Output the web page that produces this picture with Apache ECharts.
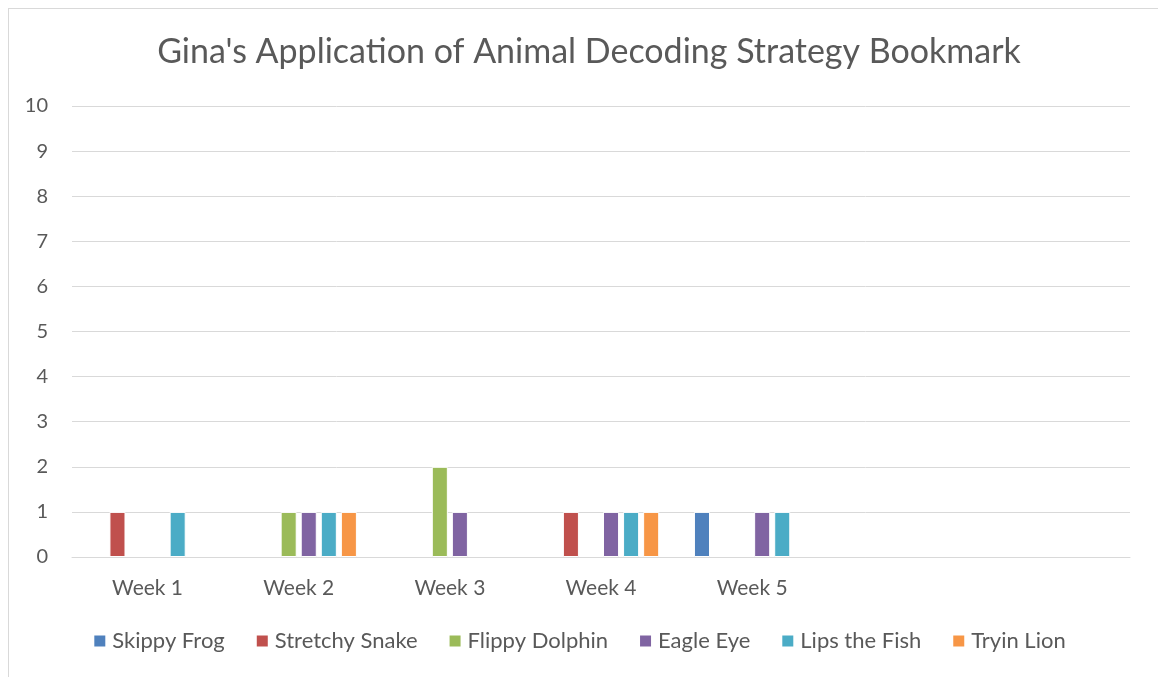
<!DOCTYPE html>
<html>
<head>
<meta charset="utf-8">
<script src="https://cdn.jsdelivr.net/npm/echarts@6/dist/echarts.min.js"></script>
<style>
  html, body { margin: 0; padding: 0; background: #fff; }
  #frame { position: absolute; left: 8px; top: 8px; width: 1200px; height: 700px;
           border-left: 1px solid #d9d9d9; border-top: 1px solid #d9d9d9; }
  #chart { position: absolute; left: 0; top: 0; width: 1158px; height: 677px; }
</style>
</head>
<body>
<div id="frame"></div>
<div id="chart"></div>
<script>
// categories (the last two are empty slots on the axis)
var weeks = ['Week 1', 'Week 2', 'Week 3', 'Week 4', 'Week 5', '', ''];
var yTicks = [0, 10, 1]; // min, max, interval

// one value per week, null = no bar
var skippyFrog    = [null, null, null, null, 1, null, null];
var stretchySnake = [1, null, null, 1, null, null, null];
var flippyDolphin = [null, 1, 2, null, null, null, null];
var eagleEye      = [null, 1, 1, 1, 1, null, null];
var lipsTheFish   = [1, 1, null, 1, 1, null, null];
var tryinLion     = [null, 1, null, 1, null, null, null];

var seriesNames = ['Skippy Frog', 'Stretchy Snake', 'Flippy Dolphin', 'Eagle Eye', 'Lips the Fish', 'Tryin Lion'];
var seriesData = [skippyFrog, stretchySnake, flippyDolphin, eagleEye, lipsTheFish, tryinLion];

var font = 'Lato, "Open Sans", sans-serif';
var myChart = echarts.init(document.getElementById('chart'));

var option = {
  animation: false,
  color: ['#4F81BD', '#C0504D', '#9BBB59', '#8064A2', '#4BACC6', '#F79646'],
  title: {
    text: "Gina's Application of Animal Decoding Strategy Bookmark",
    left: 584,
    top: 30,
    textAlign: 'center',
    textStyle: { fontFamily: font, fontSize: 34, fontWeight: 'normal', color: '#595959' }
  },
  legend: {
    bottom: 20,
    left: 'center',
    itemWidth: 13,
    itemHeight: 13,
    itemGap: 30,
    icon: 'rect',
    textStyle: { fontFamily: font, fontSize: 22, color: '#595959', padding: [0, 0, 0, 1] },
    data: seriesNames
  },
  grid: { left: 72, right: 28, top: 106, bottom: 120 },
  xAxis: {
    type: 'category',
    data: weeks,
    axisLine: { lineStyle: { color: '#d9d9d9', width: 1 } },
    axisTick: { show: false },
    axisLabel: { fontFamily: font, fontSize: 21, color: '#595959', margin: 21 }
  },
  yAxis: {
    type: 'value',
    min: yTicks[0],
    max: yTicks[1],
    interval: yTicks[2],
    axisLine: { show: false },
    axisTick: { show: false },
    splitLine: { lineStyle: { color: '#d9d9d9', width: 1 } },
    axisLabel: { fontFamily: font, fontSize: 20, color: '#595959', margin: 24 }
  },
  series: seriesNames.map(function (name, i) {
    return {
      name: name,
      type: 'bar',
      data: seriesData[i],
      barGap: '25%',
      barCategoryGap: '23%',
      itemStyle: { borderColor: '#fff', borderWidth: 1 }
    };
  })
};
myChart.setOption(option);
</script>
</body>
</html>
